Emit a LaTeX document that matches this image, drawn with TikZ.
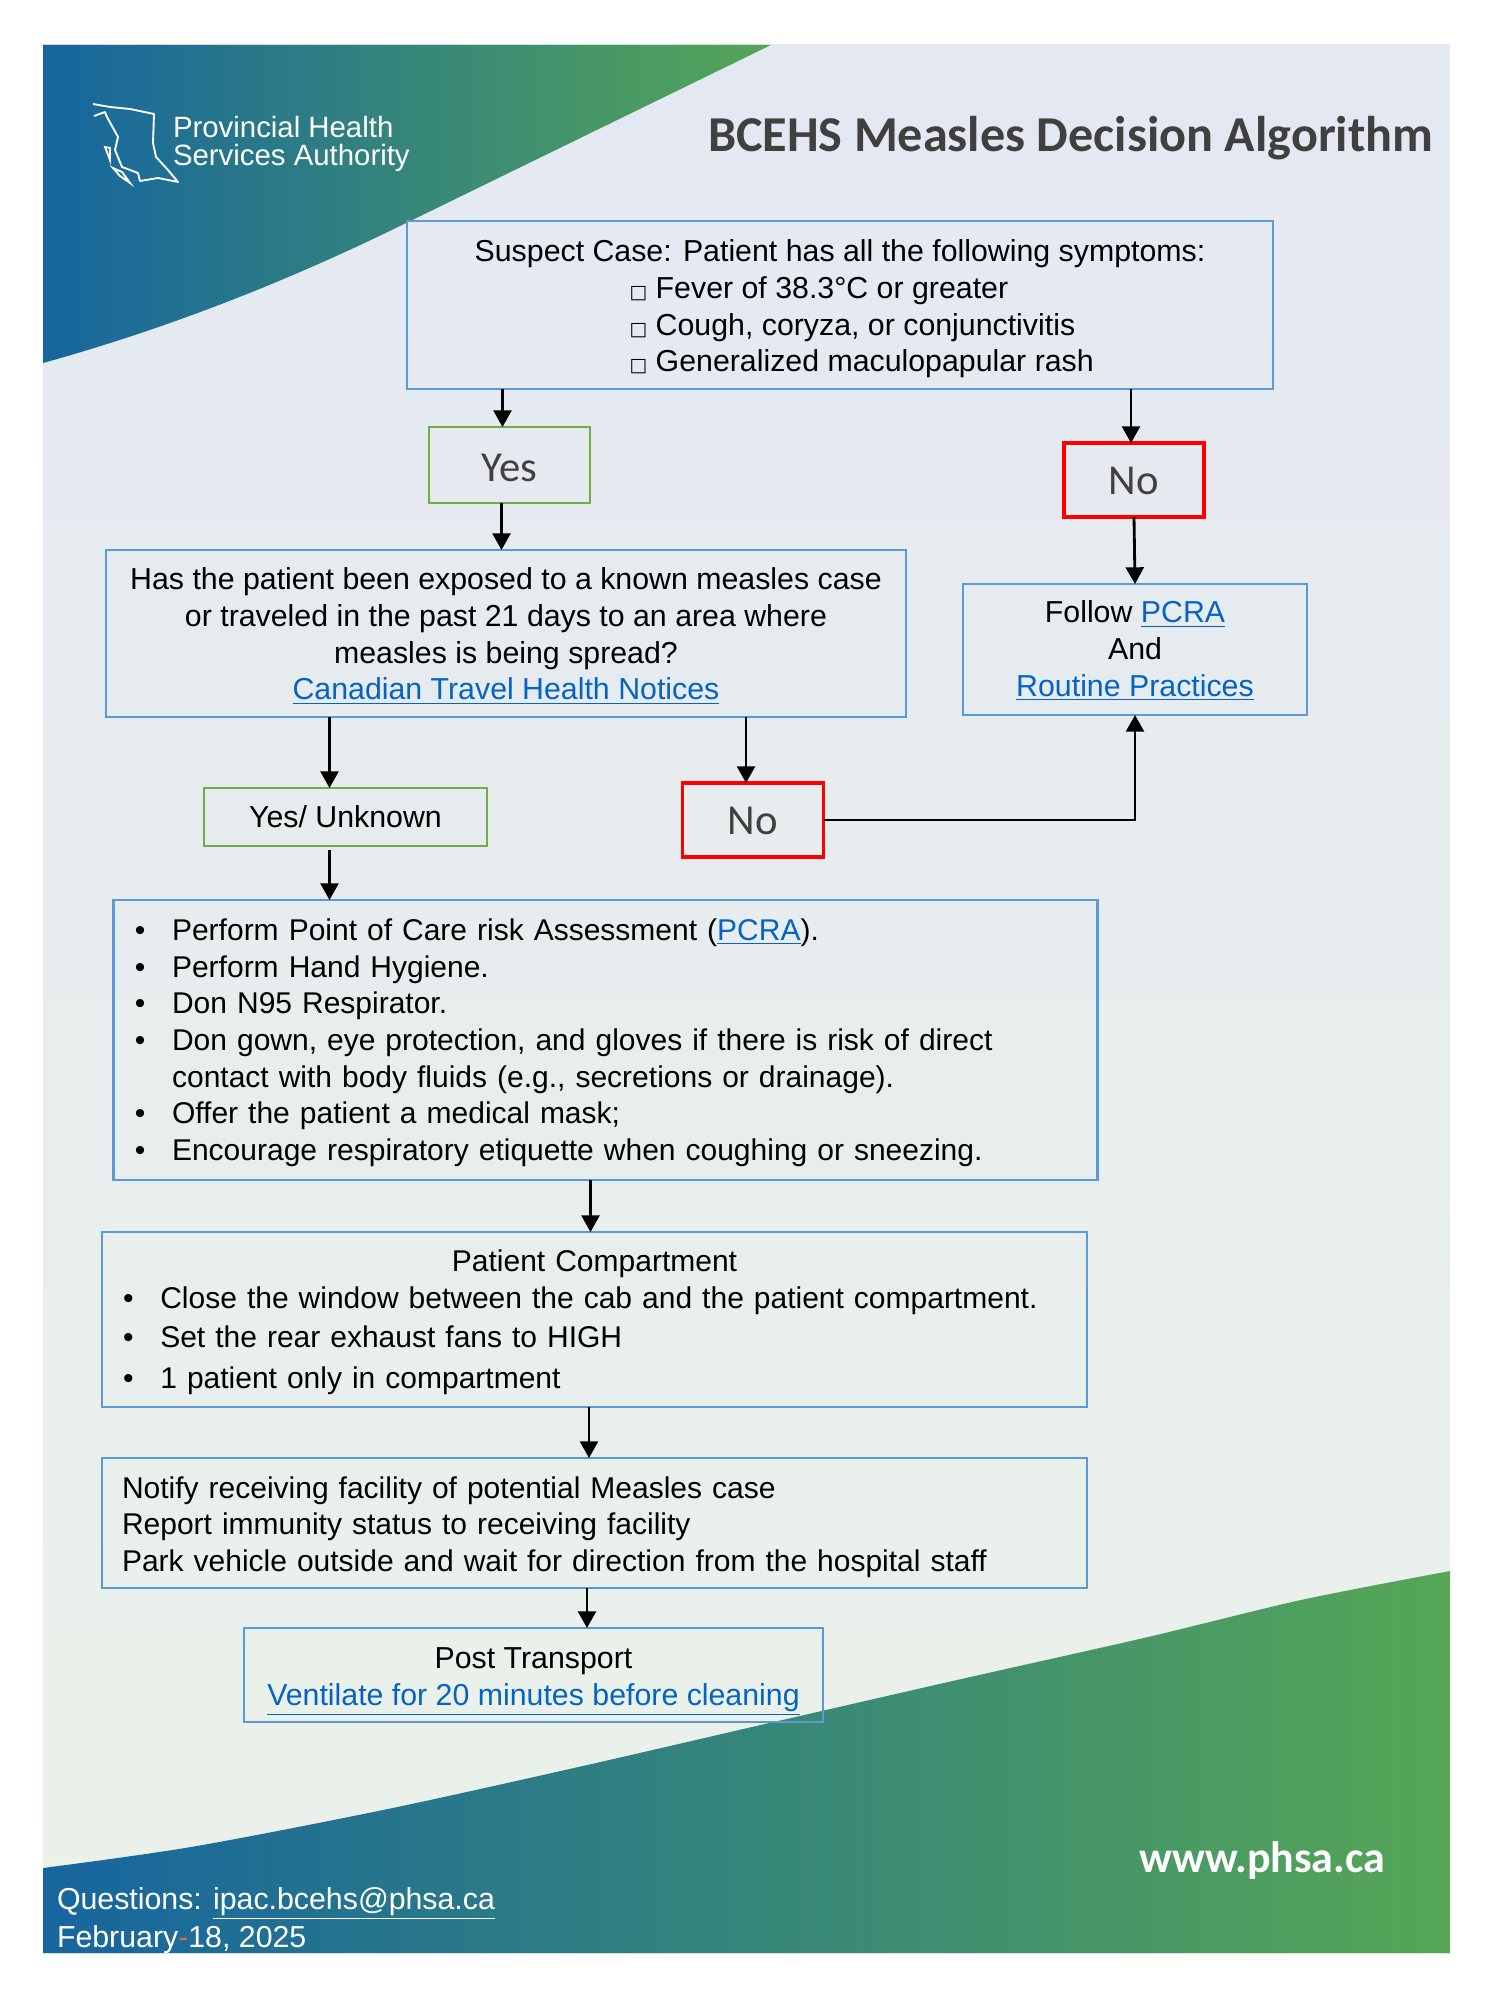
\documentclass[tikz,border=0pt]{standalone}
\usepackage{fontspec}
\setmainfont{Liberation Sans}
\newfontfamily\calfont{Carlito}
\newfontfamily\symfont{DejaVu Sans}
\usetikzlibrary{arrows.meta,positioning}
\definecolor{boxblue}{HTML}{5B9BD5}
\definecolor{boxgreen}{HTML}{70AD47}
\definecolor{linkblue}{HTML}{0563C1}
\definecolor{swblue}{HTML}{16659F}
\definecolor{swgreen}{HTML}{56A656}
\definecolor{skytop}{HTML}{E4E8F2}
\definecolor{skybot}{HTML}{EBF2E9}
\definecolor{greytext}{HTML}{404040}
\def\px{0.48pt}
\newcommand{\lnk}[1]{\textcolor{linkblue}{\underline{#1}}}
\newcommand{\tick}{{\symfont\fontsize{9}{9}\selectfont □}}
\newcommand{\bul}{\makebox[18.4pt][l]{\hspace{0.5pt}\textbullet}}
\newcommand{\dn}[1]{\rule{0pt}{#1pt}}

\begin{document}
\begin{tikzpicture}[x=\px,y=-\px,
    every node/.style={outer sep=0pt,inner sep=0pt,font=\fontsize{14.55}{17.6}\selectfont},
    box/.style={draw=boxblue,line width=1.25pt,align=center},
    leftbox/.style={draw=boxblue,line width=1.25pt,align=left,font=\fontsize{14.4}{17.6}\selectfont},
    yesbox/.style={draw=boxgreen,line width=1.25pt},
    nobox/.style={draw=red,line width=1.5pt},
    answer/.style={text=greytext,font=\calfont\fontsize{20.5}{20.5}\selectfont},
    flow/.style={line width=1.35pt,-{Triangle[length=8pt,width=8.6pt]}}]
    \useasboundingbox (0,0) rectangle (1500,2000);

    % background and the two swooshes
    \shade[top color=skytop,bottom color=skybot] (43,45) rectangle (1450,1953);
    \shade[left color=swblue,right color=swgreen]
      (43,45) -- (771,45) -- (400,226) .. controls (300,275) and (180,325) .. (43,363) -- cycle;
    \shade[left color=swblue,right color=swgreen]
      (43,1953) -- plot[smooth] coordinates {(43,1868) (191,1847) (383,1810) (574,1768) (765,1724)
        (957,1680) (1148,1637) (1301,1600) (1450,1571)} -- (1450,1953) -- cycle;

    % logo
    \draw[white,line width=0.9pt,line join=round]
      (93,104) -- (110,107) -- (130,109) -- (154,114) -- (153,143) -- (156,157) -- (168,170)
      -- (178,182) -- (158,178) -- (140,181) -- (138,173) -- (122,167) -- (115,150) -- (118,137)
      -- (107,117) -- (105,112) -- (94,116);
    \draw[white,line width=0.9pt] (113,168) -- (122,172) -- (130,183) -- (120,176) -- cycle;
    \draw[white,line width=0.9pt] (105,147) -- (110,148) -- (110,160) -- cycle;
    \node(LogoA) [anchor=base west,text=white,font=\fontsize{14.1}{17}\selectfont] at (173,138) {Provincial Health};
    \node(LogoB) [anchor=base west,text=white,font=\fontsize{14.1}{17}\selectfont] at (173,166) {Services Authority};

    \node(Title) [anchor=base west,text=greytext,font=\calfont\bfseries\fontsize{24.1}{24}\selectfont]
      at (708,152) {BCEHS Measles Decision Algorithm};

    \node(Suspect) [box,minimum width=866*\px,minimum height=168*\px] at (840,305)
      {\dn{14.3}Suspect Case: Patient has all the following symptoms:\\
       \makebox[202pt][l]{\tick\ Fever of 38.3°C or greater}\\
       \makebox[202pt][l]{\tick\ Cough, coryza, or conjunctivitis}\\
       \makebox[202pt][l]{\tick\ Generalized maculopapular rash}};
    \node(YesA) [yesbox,answer,minimum width=161*\px,minimum height=76*\px] at (509.5,465) {\dn{16}Yes};
    \node(NoA) [nobox,answer,minimum width=140*\px,minimum height=74*\px] at (1134,480) {\dn{14.5}No};
    \node(Exposed) [box,minimum width=800*\px,minimum height=167*\px] at (506,633.5)
      {\dn{13}Has the patient been exposed to a known measles case\\
       or traveled in the past 21 days to an area where\\
       measles is being spread?\\
       \lnk{Canadian Travel Health Notices}};
    \node(Follow) [box,minimum width=344*\px,minimum height=131*\px] at (1135,649.5)
      {\dn{11.8}Follow \lnk{PCRA}\\And\\\lnk{Routine Practices}};
    \node(YesUnk) [yesbox,minimum width=283*\px,minimum height=58*\px] at (345.5,817) {Yes/ Unknown};
    \node(NoB) [nobox,answer,minimum width=141*\px,minimum height=74*\px] at (753,820) {\dn{14.5}No};
    \node(Steps) [leftbox,text width=944*\px,minimum height=280*\px,inner xsep=20*\px] at (605.75,1040)
      {\dn{13}\bul Perform Point of Care risk Assessment (\lnk{PCRA}).\\
       \bul Perform Hand Hygiene.\\
       \bul Don N95 Respirator.\\
       \bul Don gown, eye protection, and gloves if there is risk of direct\\
       \hspace*{18.4pt}contact with body fluids (e.g., secretions or drainage).\\
       \bul Offer the patient a medical mask;\\
       \bul Encourage respiratory etiquette when coughing or sneezing.};
    \node(Compart) [leftbox,text width=945*\px,minimum height=175*\px,inner xsep=20*\px] at (594.5,1319.5)
      {\dn{13}\makebox[\linewidth][c]{Patient Compartment}\\
       \bul Close the window between the cab and the patient compartment.\\[1pt]
       \bul Set the rear exhaust fans to HIGH\\[2pt]
       \bul 1 patient only in compartment};
    \node(Notify) [leftbox,text width=945*\px,minimum height=130*\px,inner xsep=20*\px] at (594.5,1523)
      {\dn{14.3}Notify receiving facility of potential Measles case\\
       Report immunity status to receiving facility\\
       Park vehicle outside and wait for direction from the hospital staff};
    \node(Post) [box,minimum width=579*\px,minimum height=94*\px] at (533.5,1675)
      {\dn{16.7}Post Transport\\\lnk{Ventilate for 20 minutes before cleaning}};

    \node(Web) [text=white,font=\calfont\bfseries\fontsize{21.1}{21}\selectfont] at (1262,1861) {www.phsa.ca};
    \node(Questions) [anchor=base west,text=white] at (57,1909)
      {Questions: \underline{ipac.bcehs@phsa.ca}};
    \node(Date) [anchor=base west,text=white] at (57,1947)
      {February\textcolor[HTML]{E8604C}{-}18, 2025};

    \draw[flow] ([xshift=-7*\px]YesA.north |- Suspect.south) -- ([xshift=-7*\px]YesA.north);
    \draw[flow] ([xshift=-3*\px]NoA.north |- Suspect.south) -- ([xshift=-3*\px]NoA.north);
    \draw[flow] ([xshift=-8*\px]YesA.south) -- ([xshift=-8*\px]YesA.south |- Exposed.north);
    \draw[flow] (NoA.south) -- (Follow.north);
    \draw[flow] ([xshift=-16*\px]YesUnk.north |- Exposed.south) -- ([xshift=-16*\px]YesUnk.north);
    \draw[flow] ([xshift=-7*\px]NoB.north |- Exposed.south) -- ([xshift=-7*\px]NoB.north);
    \draw[flow] (NoB.east) -| (Follow.south);
    \draw[flow,shorten <=2pt] ([xshift=-16*\px]YesUnk.south) -- ([xshift=-16*\px]YesUnk.south |- Steps.north);
    \draw[flow] ([xshift=-4*\px]Compart.north |- Steps.south) -- ([xshift=-4*\px]Compart.north);
    \draw[flow] ([xshift=-5.5*\px]Compart.south) -- ([xshift=-5.5*\px]Notify.north);
    \draw[flow] ([xshift=53.5*\px]Post.north |- Notify.south) -- ([xshift=53.5*\px]Post.north);
  \end{tikzpicture}
\end{document}
